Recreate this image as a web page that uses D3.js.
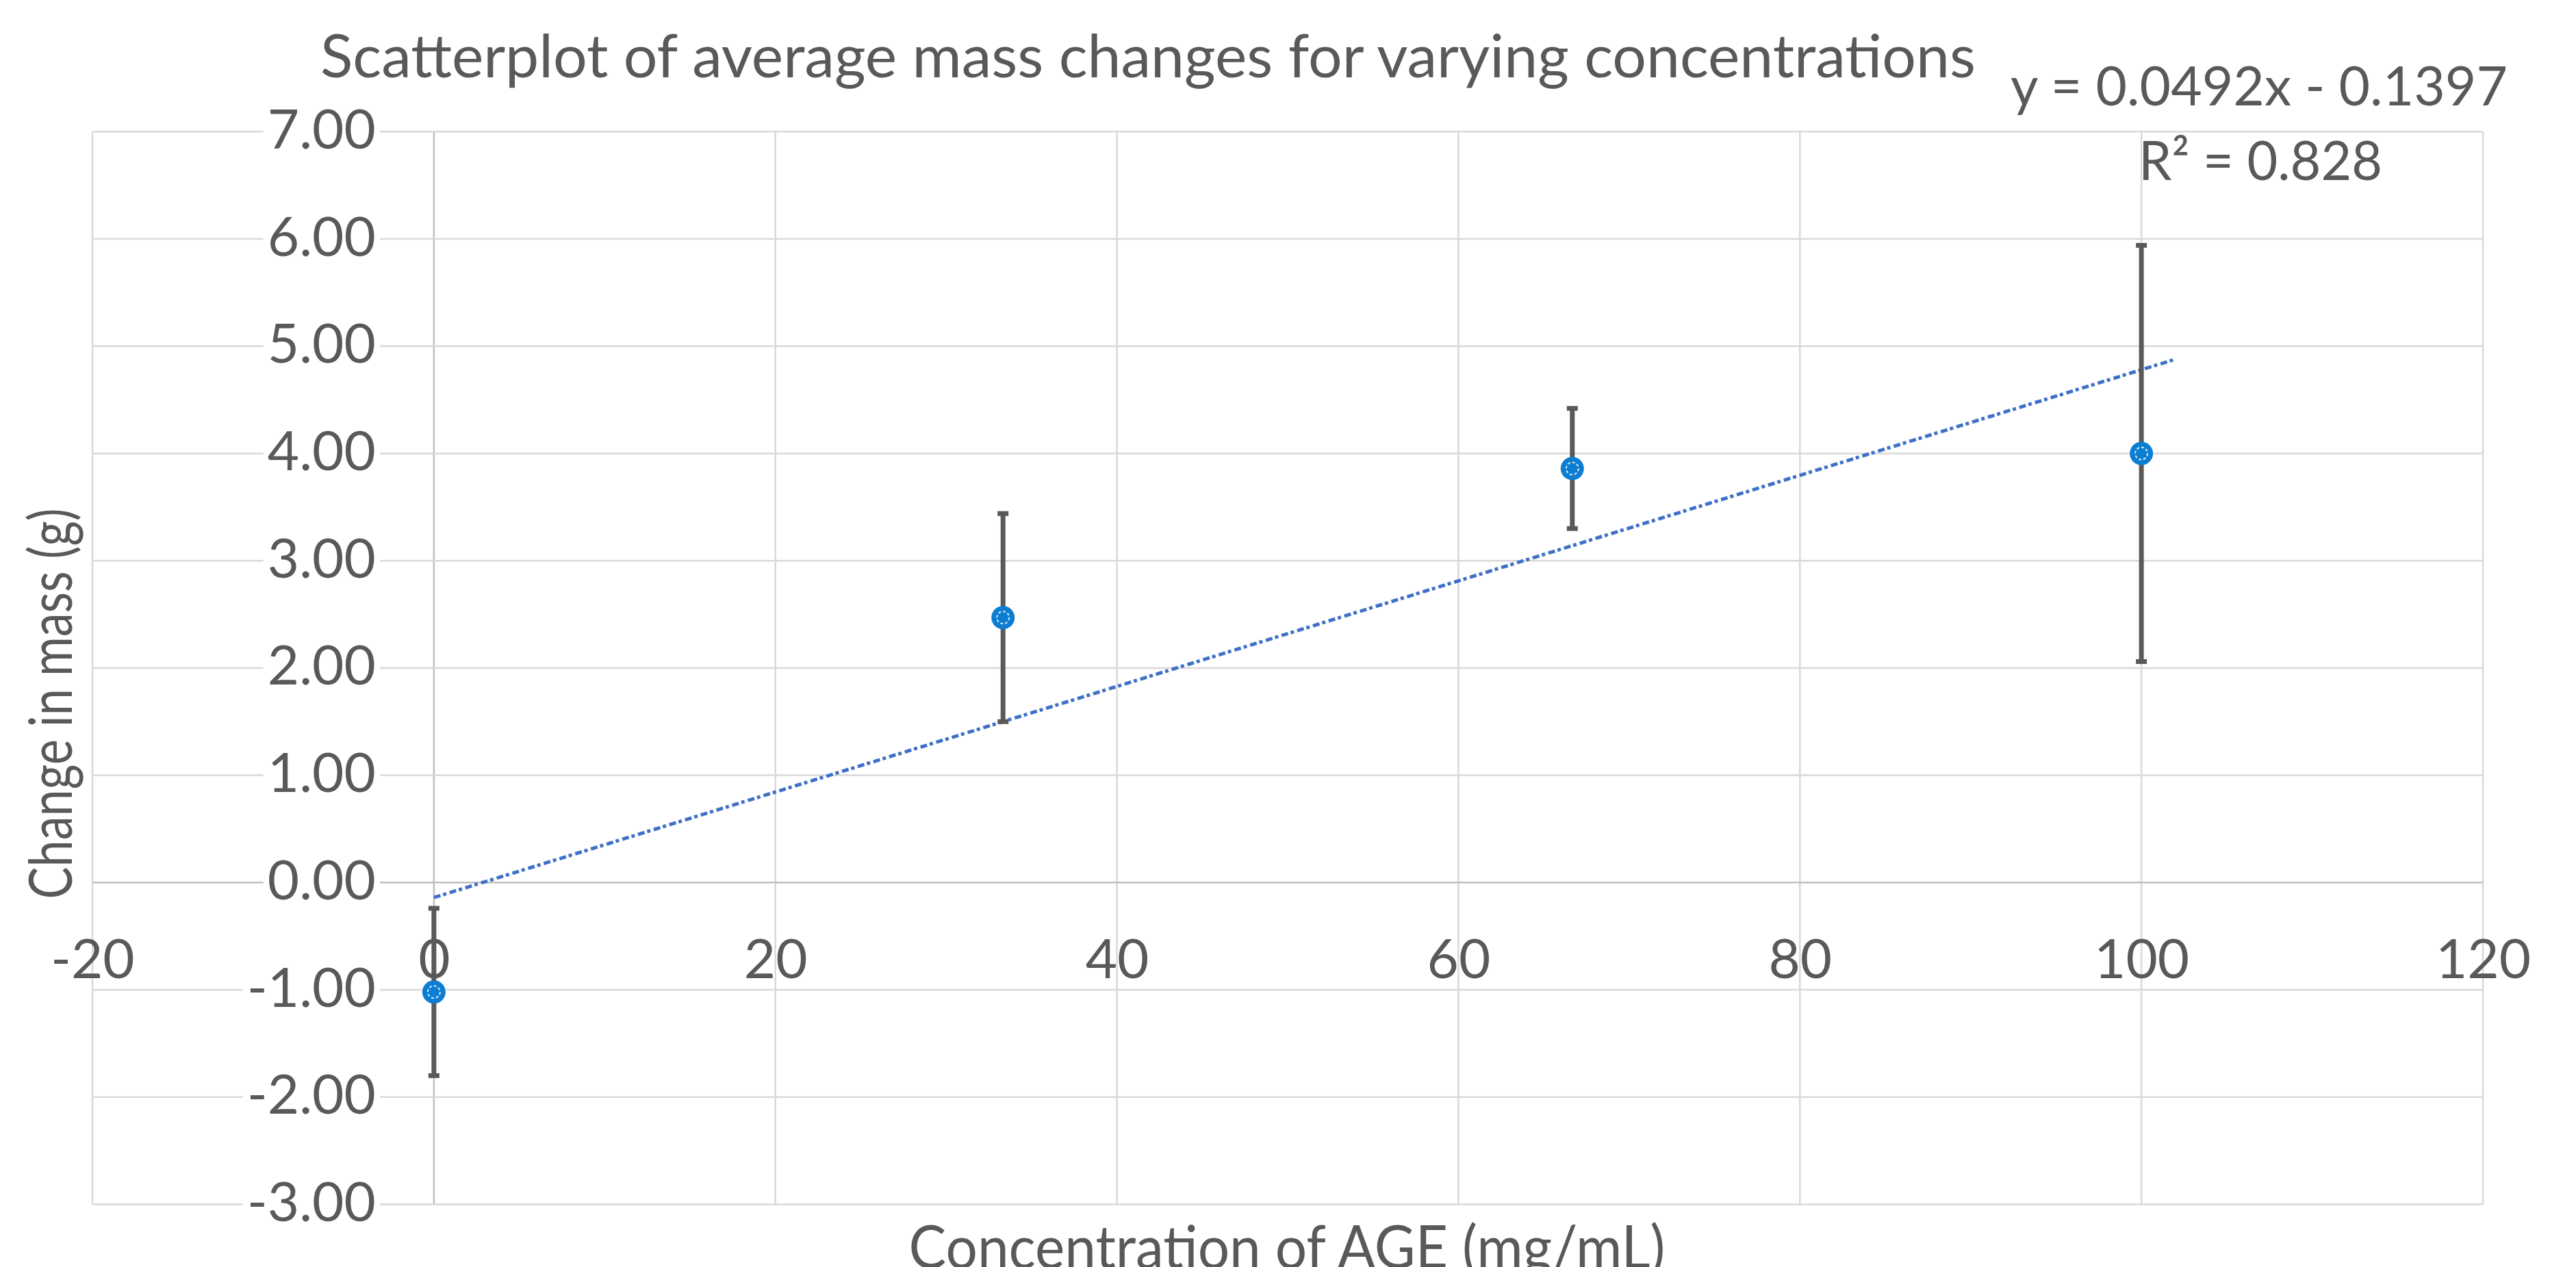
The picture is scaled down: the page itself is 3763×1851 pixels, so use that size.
<!DOCTYPE html>
<html>
<head>
<meta charset="utf-8">
<script src="https://cdn.jsdelivr.net/npm/d3@7"></script>
<style>
  html, body { margin: 0; padding: 0; background: #fff; }
  svg { display: block; }
  text { font-family: Lato, "Open Sans", "Noto Sans", sans-serif; fill: #595959; }
</style>
</head>
<body>
<svg id="chart" width="3763" height="1851"></svg>
<script>
// ---- data ----
const concentrations = [0, 33.33, 66.67, 100];
const meanChange = [-1.02, 2.47, 3.86, 4.00];
const errorHalf = [0.78, 0.97, 0.56, 1.94];
const xTicks = [-20, 0, 20, 40, 60, 80, 100, 120];
const yTicks = [-3, -2, -1, 0, 1, 2, 3, 4, 5, 6, 7];
const trendSlope = 0.0492;
const trendIntercept = -0.1397;
const trendRange = [0, 102];
const titleText = "Scatterplot of average mass changes for varying concentrations";
const xTitle = "Concentration of AGE (mg/mL)";
const yTitle = "Change in mass (g)";
const eqText = "y = 0.0492x - 0.1397";
const r2Text = "R\u00B2 = 0.828";

// ---- layout ----
const svg = d3.select("#chart");
const x = d3.scaleLinear().domain([-20, 120]).range([135, 3627]);
const y = d3.scaleLinear().domain([-3, 7]).range([1759.5, 192.3]);
const gridColor = "#d9d9d9";
const axisColor = "#bfbfbf";
const textColor = "#595959";

function fitText(sel, target) {
  const node = sel.node();
  const w = node.getComputedTextLength();
  if (Math.abs(w - target) > 4) {
    sel.attr("textLength", target).attr("lengthAdjust", "spacingAndGlyphs");
  }
}

// gridlines
const grid = svg.append("g");
grid.selectAll("line.v").data(xTicks).join("line")
  .attr("x1", d => x(d)).attr("x2", d => x(d))
  .attr("y1", y(7)).attr("y2", y(-3))
  .attr("stroke", d => d === 0 ? axisColor : gridColor).attr("stroke-width", 2.5);
grid.selectAll("line.h").data(yTicks).join("line")
  .attr("x1", x(-20)).attr("x2", x(120))
  .attr("y1", d => y(d)).attr("y2", d => y(d))
  .attr("stroke", d => d === 0 ? axisColor : gridColor).attr("stroke-width", 2.5);

// y axis labels (axis at x = 0)
const yAxis = svg.append("g")
  .attr("transform", `translate(${x(0)},0)`)
  .call(d3.axisLeft(y).tickValues(yTicks).tickSize(0).tickPadding(85)
        .tickFormat(d => d.toFixed(2)));
yAxis.select(".domain").remove();
yAxis.selectAll("text")
  .attr("dy", null).attr("y", 24)
  .style("font-size", "80px").style("fill", textColor).attr("font-family", null);
yAxis.selectAll(".tick").each(function() {
  const t = d3.select(this).select("text");
  const bb = t.node().getBBox();
  d3.select(this).insert("rect", "text")
    .attr("x", bb.x - 6).attr("width", bb.width + 12)
    .attr("y", -14).attr("height", 28).attr("fill", "#fff");
});

// x axis labels (axis at y = 0)
const xAxis = svg.append("g")
  .attr("transform", `translate(0,${y(0)})`)
  .call(d3.axisBottom(x).tickValues(xTicks).tickSize(0)
        .tickFormat(d => String(d)));
xAxis.select(".domain").remove();
xAxis.selectAll("text")
  .attr("dy", null).attr("y", 140)
  .style("font-size", "80px").style("fill", textColor).attr("font-family", null);

// trendline
const trend = trendRange.map(v => [v, trendSlope * v + trendIntercept]);
svg.append("path")
  .attr("d", d3.line().x(d => x(d[0])).y(d => y(d[1]))(trend))
  .attr("fill", "none").attr("stroke", "#3F70C8").attr("stroke-width", 5)
  .attr("stroke-dasharray", "10,4,5,5");

// error bars
const pts = concentrations.map((c, i) => ({c, m: meanChange[i], e: errorHalf[i]}));
const eb = svg.append("g").attr("stroke", "#595959").attr("stroke-width", 7);
eb.selectAll("line.bar").data(pts).join("line")
  .attr("x1", d => x(d.c)).attr("x2", d => x(d.c))
  .attr("y1", d => y(d.m + d.e)).attr("y2", d => y(d.m - d.e));
eb.selectAll("line.capT").data(pts).join("line")
  .attr("x1", d => x(d.c) - 8).attr("x2", d => x(d.c) + 8)
  .attr("y1", d => y(d.m + d.e)).attr("y2", d => y(d.m + d.e));
eb.selectAll("line.capB").data(pts).join("line")
  .attr("x1", d => x(d.c) - 8).attr("x2", d => x(d.c) + 8)
  .attr("y1", d => y(d.m - d.e)).attr("y2", d => y(d.m - d.e));

// markers
const mk = svg.append("g");
mk.selectAll("circle.o").data(pts).join("circle")
  .attr("cx", d => x(d.c)).attr("cy", d => y(d.m)).attr("r", 17)
  .attr("fill", "#0B7DD2");
mk.selectAll("circle.i").data(pts).join("circle")
  .attr("cx", d => x(d.c)).attr("cy", d => y(d.m)).attr("r", 9)
  .attr("fill", "none").attr("stroke", "#ffffff").attr("stroke-width", 2)
  .attr("stroke-dasharray", "4,3").attr("opacity", 0.85);

// title
const t = svg.append("text").attr("x", 1677).attr("y", 113)
  .attr("text-anchor", "middle").style("font-size", "88px").text(titleText);
fitText(t, 2418);

// equation + R^2
const eq = svg.append("text").attr("x", 3300).attr("y", 154)
  .attr("text-anchor", "middle").style("font-size", "80px").text(eqText);
fitText(eq, 726);
const r2 = svg.append("text").attr("x", 3302).attr("y", 263)
  .attr("text-anchor", "middle").style("font-size", "80px").text(r2Text);
fitText(r2, 356);

// axis titles
const xt = svg.append("text").attr("x", 1880).attr("y", 1853)
  .attr("text-anchor", "middle").style("font-size", "88px").text(xTitle);
fitText(xt, 1105);
const yt = svg.append("text")
  .attr("transform", "translate(105,1028) rotate(-90)")
  .attr("text-anchor", "middle").style("font-size", "88px").text(yTitle);
fitText(yt, 571);
</script>
</body>
</html>
